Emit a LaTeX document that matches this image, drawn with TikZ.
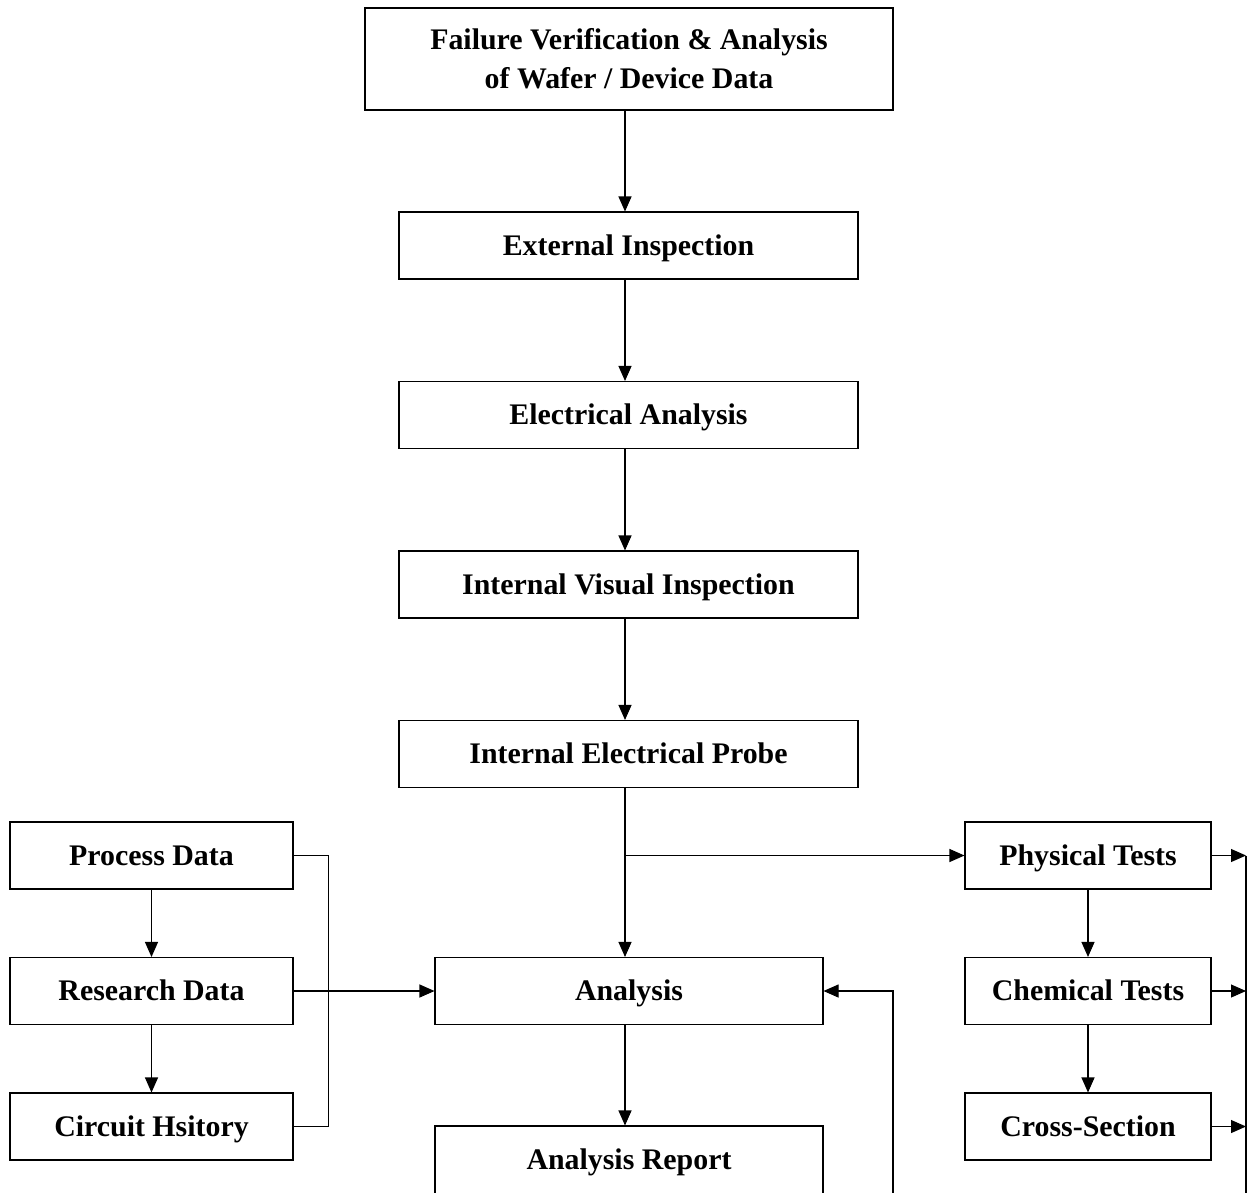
\documentclass[tikz,border=0pt]{standalone}
\usepackage{fontspec}
\setmainfont{Liberation Serif}
\usetikzlibrary{arrows.meta}
\begin{document}
\begin{tikzpicture}[
        frame/.style={draw, line width=0.6pt, align=center, inner sep=0pt,
            font=\fontsize{17}{22.3}\selectfont\bfseries},
        box/.style={frame, minimum height=1.34cm, text height=11.3pt, text depth=0pt},
        flow/.style={line width=0.6pt, -{Triangle[length=3mm,width=2.6mm]}},
        wire/.style={line width=0.6pt}]
        \useasboundingbox (0, 0) rectangle (25, -23.84);

        \node[frame, minimum width=10.56cm, minimum height=2.04cm] (top) at (12.58, -1.18) {Failure Verification \& Analysis\\of Wafer / Device Data};
        \node[box, minimum width=9.18cm] (ext) at (12.57, -4.91) {External Inspection};
        \node[box, minimum width=9.18cm] (elec) at (12.57, -8.30) {Electrical Analysis};
        \node[box, minimum width=9.18cm] (ivis) at (12.57, -11.69) {Internal Visual Inspection};
        \node[box, minimum width=9.18cm] (probe) at (12.57, -15.08) {Internal Electrical Probe};

        \node[box, minimum width=5.66cm] (process) at (3.03, -17.11) {Process Data};
        \node[box, minimum width=5.66cm] (research) at (3.03, -19.82) {Research Data};
        \node[box, minimum width=5.66cm] (circuit) at (3.03, -22.53) {Circuit Hsitory};

        \node[box, minimum width=7.76cm] (analysis) at (12.58, -19.82) {Analysis};
        \node[box, minimum width=7.76cm, minimum height=2cm] (report) at (12.58, -23.52) {};
        \node[frame, draw=none, text height=11.3pt, text depth=0pt] (reporttext) at (12.58, -23.19) {Analysis Report};

        \node[box, minimum width=4.92cm] (phys) at (21.76, -17.11) {Physical Tests};
        \node[box, minimum width=4.92cm] (chem) at (21.76, -19.82) {Chemical Tests};
        \node[box, minimum width=4.92cm] (cross) at (21.76, -22.53) {Cross-Section};

        \coordinate (spine) at (12.50, 0);
        \coordinate (ret) at (17.86, -24.2);
        \coordinate (bus) at (24.92, -24.2);

        \draw[flow] (top.south -| spine) -- (ext.north -| spine);
        \draw[flow] (ext.south -| spine) -- (elec.north -| spine);
        \draw[flow] (elec.south -| spine) -- (ivis.north -| spine);
        \draw[flow] (ivis.south -| spine) -- (probe.north -| spine);
        \draw[flow] (probe.south -| spine) -- (analysis.north -| spine);
        \draw[flow] (spine |- phys.west) -- (phys.west);
        \draw[flow] (analysis.south -| spine) -- (report.north -| spine);

        \draw[flow] (process) -- (research);
        \draw[flow] (research) -- (circuit);
        \draw[wire] (process.east) -- ++(0.7, 0) |- (circuit.east);
        \draw[flow] (research.east) -- (analysis.west);

        \draw[flow] (ret) |- (analysis.east);

        \draw[flow] (phys) -- (chem);
        \draw[flow] (chem) -- (cross);
        \draw[flow] (phys.east) -- (phys.east -| bus);
        \draw[flow] (chem.east) -- (chem.east -| bus);
        \draw[flow] (cross.east) -- (cross.east -| bus);
        \draw[wire] (bus |- phys.east) -- (bus);
\end{tikzpicture}
\end{document}
